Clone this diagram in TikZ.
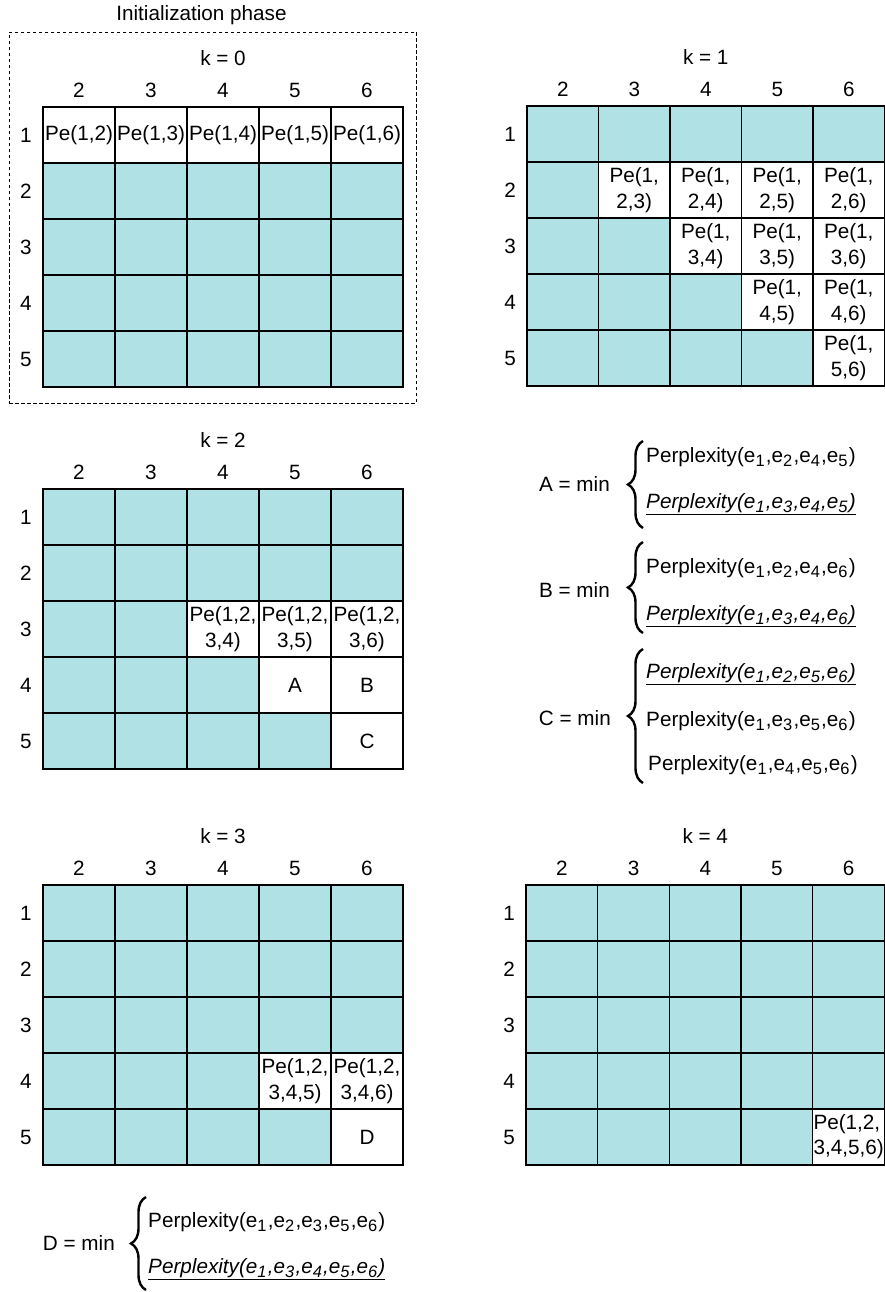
\documentclass[tikz,border=0pt]{standalone}
\usepackage{fontspec}
\setmainfont{Liberation Sans}
\usetikzlibrary{decorations.pathreplacing}
\definecolor{cellcyan}{RGB}{176,226,229}
\newcommand{\myfs}{\fontsize{20.7}{26}\selectfont}
\newcommand{\sbs}[1]{\raisebox{-0.22em}{\fontsize{16.5}{16.5}\selectfont #1}\kern1.2pt}
\tikzset{
  cell/.style={draw=black, line width=1.3pt, minimum height=56pt, inner sep=0pt, outer sep=0pt},
  cy/.style={cell, fill=cellcyan},
  wh/.style={cell, fill=white},
  lbl/.style={font=\myfs, inner sep=0pt},
  ctext/.style={font=\myfs, align=center, inner sep=0pt},
  brc/.style={decorate, decoration={brace, amplitude=15pt}, line width=2.4pt},
}
% #1 id, #2 left, #3 top, #4 dx, #5 k
\newcommand{\mkgrid}[5]{%
  \foreach \r in {1,...,5}{
    \foreach \c in {2,...,6}{
      \pgfmathtruncatemacro{\w}{(#5==0)*(\r==1)+(#5>0)*(\r>#5)*(\c>\r)}
      \ifnum\w=1
        \node[wh, minimum width=#4pt] (#1-\r-\c) at ({#2+(\c-1.5)*#4},{#3+(\r-0.5)*56}) {};
      \else
        \node[cy, minimum width=#4pt] (#1-\r-\c) at ({#2+(\c-1.5)*#4},{#3+(\r-0.5)*56}) {};
      \fi
    }
    \node[lbl] (#1-row-\r) at ({#2-17},{#3+(\r-0.5)*56}) {\r};
  }
  \foreach \c in {2,...,6}{
    \node[lbl] (#1-col-\c) at ({#2+(\c-1.5)*#4},{#3-17}) {\c};
  }
  \node[lbl] (#1-k) at ({#2+2.5*#4},{#3-49}) {k = #5};
}
\begin{document}
\begin{tikzpicture}[x=1pt,y=-1pt]
\useasboundingbox (0,0) rectangle (885,1292);

% initialization frame
\node[draw, dashed, line width=0.9pt, dash pattern=on 3.5pt off 2.5pt, minimum width=407pt, minimum height=371pt, inner sep=0pt] (initbox) at (212.5,217.5) {};
\node[lbl] (inittitle) at (201.5,15) {Initialization phase};

\mkgrid{g0}{43}{107}{72}{0}
\mkgrid{g1}{527}{106}{71.5}{1}
\mkgrid{g2}{43}{489}{72}{2}
\mkgrid{g3}{43}{885}{72}{3}
\mkgrid{g4}{526}{885}{71.7}{4}

% texts k=0
\foreach \c in {2,...,6}{ \node[ctext] (t0-\c) at (g0-1-\c) {Pe(1,\c)}; }
% texts k=1
\foreach \r in {2,...,5}{
  \foreach \c in {2,...,6}{
    \pgfmathtruncatemacro{\w}{(\c>\r)}
    \ifnum\w=1 \node[ctext] (t1-\r-\c) at (g1-\r-\c) {Pe(1,\\\r,\c)}; \fi
  }
}
% texts k=2
\foreach \c in {4,5,6}{ \node[ctext] (t2-3-\c) at (g2-3-\c) {Pe(1,2,\\3,\c)}; }
\node[ctext] (t2-A) at (g2-4-5) {A};
\node[ctext] (t2-B) at (g2-4-6) {B};
\node[ctext] (t2-C) at (g2-5-6) {C};
% texts k=3
\node[ctext] (t3-4-5) at (g3-4-5) {Pe(1,2,\\3,4,5)};
\node[ctext] (t3-4-6) at (g3-4-6) {Pe(1,2,\\3,4,6)};
\node[ctext] (t3-D) at (g3-5-6) {D};
% text k=4
\node[ctext, align=left, anchor=west] (t4-5-6) at ([xshift=0.5pt]g4-5-6.west) {Pe(1,2,\\[-1pt]3,4,5,6)};

% formulas A, B, C
\node[lbl, anchor=east] (Aeq) at (610,484) {A = min};
\coordinate (Abot) at (643,528);
\coordinate (Atop) at (643,441);
\draw[brc] (Abot) -- (Atop);
\node[lbl, anchor=west] (A1) at (646,457) {Perplexity(e\sbs{1},e\sbs{2},e\sbs{4},e\sbs{5})};
\node[lbl, anchor=west] (A2) at (646,504) {\underline{\textit{Perplexity(e\sbs{1},e\sbs{3},e\sbs{4},e\sbs{5})}}};

\node[lbl, anchor=east] (Beq) at (610,590) {B = min};
\coordinate (Bbot) at (643,633);
\coordinate (Btop) at (643,542);
\draw[brc] (Bbot) -- (Btop);
\node[lbl, anchor=west] (B1) at (646,568) {Perplexity(e\sbs{1},e\sbs{2},e\sbs{4},e\sbs{6})};
\node[lbl, anchor=west] (B2) at (646,616) {\underline{\textit{Perplexity(e\sbs{1},e\sbs{3},e\sbs{4},e\sbs{6})}}};

\node[lbl, anchor=east] (Ceq) at (611,718) {C = min};
\coordinate (Cbot) at (643,783);
\coordinate (Ctop) at (643,649);
\draw[brc] (Cbot) -- (Ctop);
\node[lbl, anchor=west] (C1) at (646,674) {\underline{\textit{Perplexity(e\sbs{1},e\sbs{2},e\sbs{5},e\sbs{6})}}};
\node[lbl, anchor=west] (C2) at (646,721) {Perplexity(e\sbs{1},e\sbs{3},e\sbs{5},e\sbs{6})};
\node[lbl, anchor=west] (C3) at (648,765) {Perplexity(e\sbs{1},e\sbs{4},e\sbs{5},e\sbs{6})};

% formula D
\node[lbl, anchor=east] (Deq) at (115,1243) {D = min};
\coordinate (Dbot) at (146,1290);
\coordinate (Dtop) at (146,1197);
\draw[brc] (Dbot) -- (Dtop);
\node[lbl, anchor=west] (D1) at (148,1222) {Perplexity(e\sbs{1},e\sbs{2},e\sbs{3},e\sbs{5},e\sbs{6})};
\node[lbl, anchor=west] (D2) at (148,1269) {\underline{\textit{Perplexity(e\sbs{1},e\sbs{3},e\sbs{4},e\sbs{5},e\sbs{6})}}};
\end{tikzpicture}
\end{document}
